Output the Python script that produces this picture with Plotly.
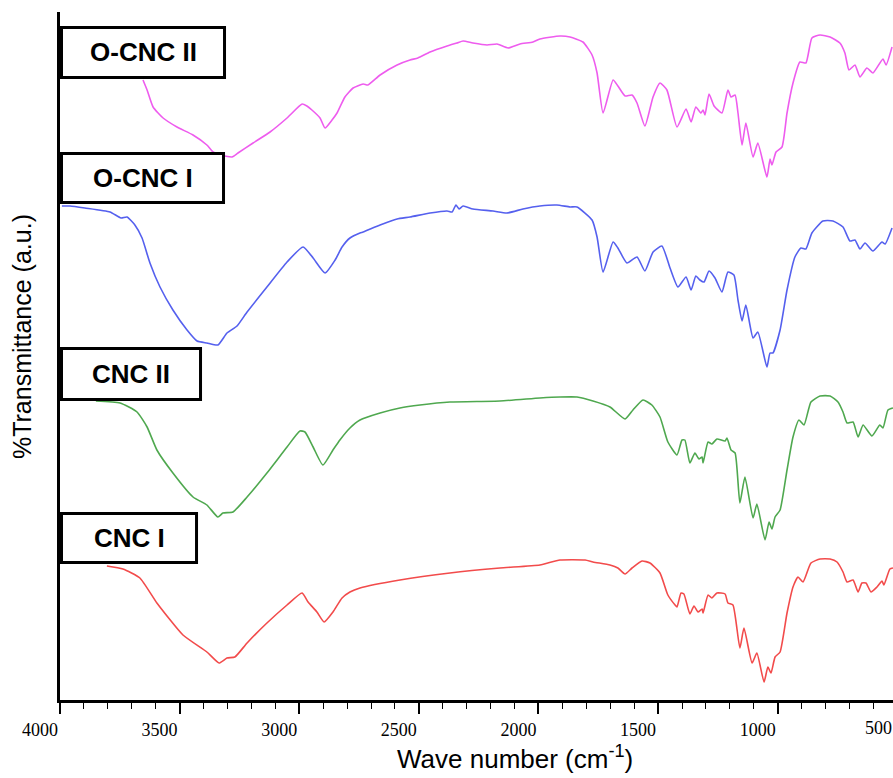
import plotly.graph_objects as go

# ---------------- data (wavenumber in cm-1, transmittance in a.u., stacked) -------------
wn_cnc1 = [3804, 3737, 3666, 3595, 3486, 3386, 3335, 3302, 3269, 3218, 3135, 3051, 2988, 2963,
           2926, 2896, 2859, 2821, 2788, 2746, 2579, 2370, 2161, 1994, 1910, 1805, 1772, 1701,
           1668, 1638, 1609, 1567, 1534, 1492, 1459, 1429, 1421, 1404, 1392, 1367, 1350, 1333,
           1316, 1312, 1291, 1275, 1254, 1220, 1208, 1187, 1158, 1141, 1107, 1087, 1057, 1041,
           1028, 1011, 990, 961, 936, 915, 894, 861, 823, 781, 752, 727, 710, 685, 664, 648,
           631, 610, 585, 564, 556, 531, 518]
t_cnc1 = [134, 131, 122, 97, 65, 48, 37, 42, 43, 57, 77, 95, 107, 98,
          88, 78, 88, 102, 108, 112, 120, 127, 132, 135, 140, 140, 138, 135,
          132, 126, 132, 139, 137, 127, 105, 95, 93, 107, 106, 86, 94, 88,
          91, 87, 105, 102, 107, 106, 97, 95, 52, 72, 37, 47, 18, 33,
          27, 43, 48, 87, 113, 123, 118, 137, 141, 141, 138, 128, 118, 120, 108, 117,
          117, 108, 113, 119, 115, 131, 132]

wn_cnc2 = [3850, 3749, 3678, 3636, 3595, 3528, 3444, 3386, 3340, 3319, 3277, 3218, 3135, 3051,
           2997, 2976, 2942, 2901, 2859, 2830, 2788, 2746, 2662, 2579, 2495, 2370, 2161, 1994,
           1910, 1839, 1772, 1701, 1638, 1605, 1563, 1526, 1492, 1459, 1421, 1400, 1388, 1367,
           1346, 1329, 1316, 1312, 1291, 1275, 1254, 1220, 1212, 1195, 1178, 1158, 1137, 1103,
           1087, 1053, 1036, 1024, 1011, 990, 961, 936, 911, 890, 861, 823, 781, 748, 727, 710,
           685, 664, 643, 606, 573, 560, 539, 518]
t_cnc2 = [299, 297, 288, 273, 250, 227, 203, 195, 183, 187, 188, 203, 227, 253,
          269, 268, 253, 235, 250, 260, 272, 280, 287, 292, 295, 298, 299, 302,
          303, 303, 299, 293, 281, 290, 300, 295, 283, 258, 245, 260, 260, 237,
          247, 241, 243, 237, 258, 256, 261, 259, 262, 250, 247, 197, 223, 182,
          196, 160, 178, 171, 183, 190, 230, 263, 280, 275, 298, 304, 304, 298, 288, 277,
          278, 263, 275, 264, 275, 272, 290, 292]

wn_ocnc1 = [3992, 3958, 3896, 3791, 3745, 3720, 3687, 3657, 3624, 3582, 3528, 3469, 3427, 3386,
            3340, 3302, 3260, 3218, 3135, 3051, 2984, 2942, 2892, 2850, 2821, 2788, 2746, 2733,
            2662, 2591, 2537, 2453, 2382, 2361, 2345, 2332, 2315, 2274, 2190, 2132, 2065, 1994,
            1923, 1868, 1839, 1776, 1755, 1730, 1688, 1668, 1630, 1588, 1555, 1521, 1484, 1450,
            1417, 1383, 1362, 1342, 1325, 1308, 1287, 1262, 1233, 1208, 1183, 1166, 1149, 1133,
            1103, 1083, 1045, 1032, 1020, 990, 961, 928, 903, 882, 857, 811, 769, 727, 698, 677,
            656, 635, 602, 564, 551, 522]
t_ocnc1 = [494, 494, 492, 488, 482, 483, 475, 462, 437, 413, 390, 370, 359, 357,
           355, 367, 374, 388, 413, 438, 453, 442, 427, 440, 453, 462, 467, 468,
           475, 481, 483, 487, 489, 488, 495, 491, 494, 491, 489, 487, 491, 494,
           495, 493, 493, 480, 463, 428, 458, 452, 437, 443, 429, 448, 454, 432,
           413, 423, 410, 424, 420, 418, 429, 422, 408, 428, 425, 400, 379, 395,
           362, 368, 333, 347, 347, 370, 410, 443, 452, 451, 467, 479, 479, 473, 459, 460,
           451, 457, 449, 458, 456, 472]

wn_ocnc2 = [3653, 3636, 3611, 3569, 3511, 3444, 3386, 3360, 3331, 3281, 3256, 3193, 3122, 3051,
            2988, 2968, 2947, 2913, 2892, 2863, 2842, 2809, 2775, 2733, 2713, 2662, 2591, 2537,
            2504, 2453, 2382, 2341, 2315, 2274, 2215, 2173, 2127, 2077, 2023, 1994, 1910, 1868,
            1814, 1776, 1755, 1730, 1688, 1668, 1638, 1609, 1588, 1555, 1521, 1492, 1463, 1421,
            1383, 1362, 1342, 1321, 1312, 1304, 1287, 1266, 1233, 1208, 1195, 1178, 1166, 1149,
            1133, 1103, 1083, 1045, 1032, 1024, 1007, 982, 961, 936, 907, 882, 857, 823, 781,
            740, 719, 702, 677, 656, 627, 602, 560, 547, 522]
t_ocnc2 = [620, 610, 593, 582, 573, 565, 555, 548, 545, 543, 547, 557, 568, 582,
           596, 594, 590, 582, 572, 580, 587, 603, 612, 616, 615, 625, 635, 640,
           642, 648, 654, 657, 659, 657, 655, 656, 652, 656, 658, 661, 664, 663,
           658, 645, 627, 587, 620, 614, 604, 605, 597, 574, 603, 617, 610, 573,
           591, 578, 593, 587, 590, 585, 606, 594, 587, 610, 603, 605, 587, 555,
           577, 543, 557, 523, 541, 535, 548, 553, 587, 617, 638, 637, 662, 665, 663,
           657, 647, 630, 635, 623, 632, 627, 641, 635, 653]

series_names = ["CNC I", "CNC II", "O-CNC I", "O-CNC II"]
series_colors = ["#f24b4b", "#4fa84f", "#5560ee", "#ee5cee"]
x_ticks = [4000, 3500, 3000, 2500, 2000, 1500, 1000]
edge_tick = "500"   # tick just beyond the visible range, drawn clipped at the right edge

# label boxes (paper coords) for each series
boxes = {
    "O-CNC II": (0.0018, 0.1975, 0.9048, 0.9775),
    "O-CNC I": (0.0018, 0.1963, 0.7231, 0.7943),
    "CNC II": (0.0018, 0.1687, 0.4368, 0.5109),
    "CNC I": (0.0018, 0.1639, 0.1999, 0.2711),
}

tick_font = dict(family="Liberation Serif, Times New Roman, serif", size=18, color="black")

fig = go.Figure()
for name, wn, t, col in zip(series_names,
                            [wn_cnc1, wn_cnc2, wn_ocnc1, wn_ocnc2],
                            [t_cnc1, t_cnc2, t_ocnc1, t_ocnc2],
                            series_colors):
    fig.add_trace(go.Scatter(x=wn, y=t, mode="lines", name=name,
                             line=dict(color=col, width=1.6, shape="spline", smoothing=0.5)))

for label, (x0, x1, y0, y1) in boxes.items():
    fig.add_shape(type="rect", xref="paper", yref="paper", x0=x0, x1=x1, y0=y0, y1=y1,
                  line=dict(color="black", width=3), fillcolor="white", layer="above")
    fig.add_annotation(text="<b>%s</b>" % label, xref="paper", yref="paper",
                       x=(x0 + x1) / 2, y=(y0 + y1) / 2, showarrow=False,
                       font=dict(family="Liberation Sans, Arial", size=26, color="black"),
                       xanchor="center", yanchor="middle")

fig.add_annotation(text=edge_tick, xref="paper", yref="paper", x=0.982, y=-0.04,
                   showarrow=False, xanchor="center", yanchor="middle", font=tick_font)

fig.add_annotation(text="Wave number (cm<sup>-1</sup>)", xref="paper", yref="paper",
                   x=0.546, y=-0.083, showarrow=False, xanchor="center", yanchor="middle",
                   font=dict(family="Liberation Sans, Arial", size=26, color="black"))
fig.add_annotation(text="%Transmittance (a.u.)", xref="paper", yref="paper",
                   x=-0.0456, y=0.5276, showarrow=False, textangle=-90,
                   xanchor="center", yanchor="middle",
                   font=dict(family="Liberation Sans, Arial", size=25, color="black"))

fig.update_layout(
    width=893, height=778,
    margin=dict(l=60, r=0, t=12, b=78),
    paper_bgcolor="white", plot_bgcolor="white",
    showlegend=False,
    xaxis=dict(range=[4000, 518], showgrid=False, zeroline=False,
               showline=True, linecolor="black", linewidth=3,
               tickmode="array", tickvals=x_ticks, ticktext=[str(v) for v in x_ticks],
               ticks="outside", ticklen=11, tickwidth=1.5, tickcolor="black",
               ticklabelshift=20,
               tickfont=tick_font,
               minor=dict(dtick=100, tick0=0, ticks="outside", ticklen=6, tickwidth=1.2,
                          tickcolor="black", showgrid=False)),
    yaxis=dict(range=[0, 688], showgrid=False, zeroline=False, showticklabels=False,
               showline=True, linecolor="black", linewidth=3, ticks=""),
)

fig.write_html("out.html")
